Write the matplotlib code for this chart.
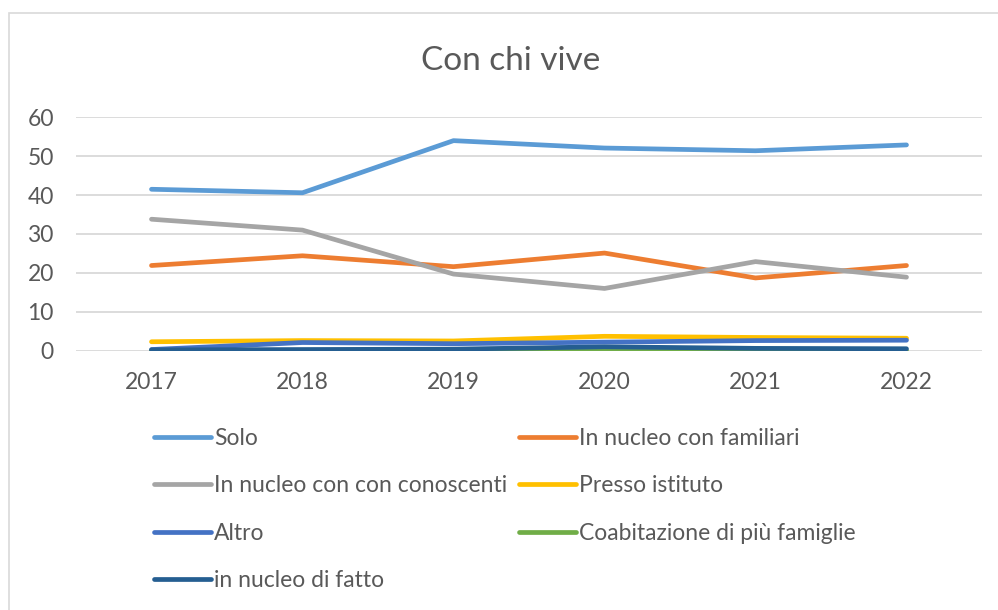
import matplotlib.pyplot as plt
from matplotlib.patches import Rectangle

years = ['2017', '2018', '2019', '2020', '2021', '2022']

solo = [41.5, 40.6, 54.0, 52.1, 51.4, 52.9]
familiari = [21.9, 24.4, 21.6, 25.1, 18.7, 21.9]
conoscenti = [33.8, 31.0, 19.7, 16.0, 22.9, 18.9]
istituto = [2.3, 2.6, 2.5, 3.7, 3.4, 3.2]
altro = [0.3, 2.1, 1.8, 2.2, 2.6, 2.7]
coabitazione = [0.0, 0.0, 0.0, 0.1, 0.0, 0.0]
nucleo_fatto = [0.2, 0.3, 0.4, 1.0, 0.6, 0.5]

series = [
    ('Solo', solo, '#5B9BD5'),
    ('In nucleo con familiari', familiari, '#ED7D31'),
    ('In nucleo con con conoscenti', conoscenti, '#A5A5A5'),
    ('Presso istituto', istituto, '#FFC000'),
    ('Altro', altro, '#4472C4'),
    ('Coabitazione di più famiglie', coabitazione, '#70AD47'),
    ('in nucleo di fatto', nucleo_fatto, '#255E91'),
]

plt.rcParams['font.family'] = ['Lato', 'DejaVu Sans']
text_color = '#595959'

fig = plt.figure(figsize=(9.98, 6.10), dpi=100)
fig.patches.append(Rectangle((9 / 998, -0.1), 1.1, 1 - 13 / 610 + 0.1,
                             transform=fig.transFigure, fill=False,
                             edgecolor='#D9D9D9', linewidth=1.2))

ax = fig.add_axes([76 / 998, 1 - 350.7 / 610, 906 / 998, 233.4 / 610])

x = list(range(len(years)))
lines = []
for name, vals, color in series:
    ln, = ax.plot(x, vals, color=color, linewidth=3.4, label=name,
                  solid_capstyle='round', solid_joinstyle='round')
    lines.append(ln)

ax.set_xlim(-0.5, len(years) - 0.5)
ax.set_ylim(0, 60)
ax.set_yticks([0, 10, 20, 30, 40, 50, 60])
ax.set_xticks(x)
ax.set_xticklabels(years)
ax.grid(axis='y', color='#D9D9D9', linewidth=1.3)
ax.set_axisbelow(True)
for s in ax.spines.values():
    s.set_visible(False)
ax.tick_params(axis='both', length=0, colors=text_color, labelsize=16.5)
ax.tick_params(axis='x', pad=15)
ax.tick_params(axis='y', pad=16)

fig.text(511 / 998, 1 - 61 / 610, 'Con chi vive', ha='center', va='center',
         fontsize=24, color=text_color)

# legend in row order like Excel (matplotlib fills column by column)
order = [0, 2, 4, 6, 1, 3, 5]
leg = fig.legend([lines[i] for i in order], [series[i][0] for i in order],
                 ncol=2, loc='upper left', bbox_to_anchor=(154 / 998, 1 - 428 / 610),
                 frameon=False, fontsize=16.5, handlelength=2.5, handletextpad=0.12,
                 labelspacing=1.15, columnspacing=0.5, borderaxespad=0, borderpad=0)
for t in leg.get_texts():
    t.set_color(text_color)

fig.savefig('out.png', dpi=100)
